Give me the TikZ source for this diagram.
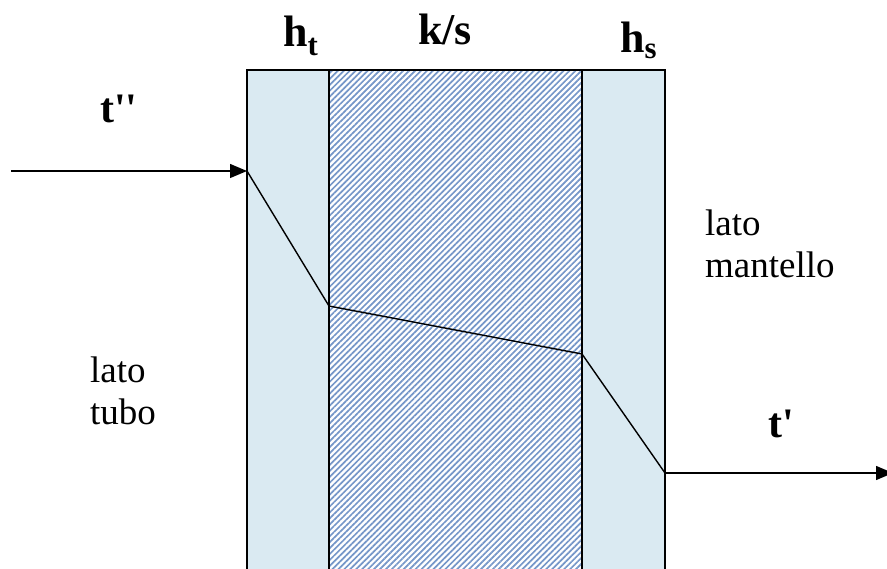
\documentclass[tikz,border=0pt]{standalone}
\usepackage{xcolor}
\usepackage{fontspec}
\setmainfont{Liberation Serif}
\usepackage{tikz}
\usetikzlibrary{arrows.meta, patterns.meta, positioning}

\definecolor{filmblue}{HTML}{DAEAF2}
\definecolor{hatchblue}{HTML}{7596C8}

\begin{document}
\begin{tikzpicture}[x=1pt, y=-1pt,
        film/.style={fill=filmblue},
        wall/.style={fill=white, pattern={Lines[angle=45, distance=4.2pt, line width=1.7pt]}, pattern color=hatchblue},
        edgeline/.style={line width=1.4pt},
        flow/.style={line width=1.3pt, -{Triangle[length=17pt, width=14pt]}},
        coef/.style={font=\fontsize{44}{50}\selectfont\bfseries, inner sep=0pt, anchor=base west},
        temp/.style={font=\fontsize{42}{48}\selectfont\bfseries, inner sep=0pt, anchor=base west},
        side/.style={font=\fontsize{37}{42}\selectfont, inner sep=0pt, anchor=north west, align=left}]
        \useasboundingbox (0,0) rectangle (887,569);

        \coordinate (in)  at (11,171);
        \coordinate (p1)  at (247,171);
        \coordinate (p2)  at (329,306);
        \coordinate (p3)  at (582,354);
        \coordinate (p4)  at (665,473);
        \coordinate (out) at (893,473);

        \fill[film] (247,70) rectangle (329,569);
        \fill[wall] (329,70) rectangle (582,569);
        \fill[film] (582,70) rectangle (665,569);

        \draw[edgeline] (247,569) -- (247,70) -- (665,70) -- (665,569);
        \draw[edgeline] (329,70) -- (329,569);
        \draw[edgeline] (582,70) -- (582,569);

        \node[coef] (ht) at (283,47) {h\textsubscript{t}};
        \node[coef] (ks) at (418,45) {k/s};
        \node[coef] (hs) at (620,53) {h\textsubscript{s}};

        \node[temp] (thot)  at (100,123) {t\textquotesingle\textquotesingle};
        \node[temp] (tcold) at (768,438) {t\textquotesingle};

        \node[side] (tubo)     at (90,357)  {lato\\tubo};
        \node[side] (mantello) at (705,210) {lato\\mantello};

        \path[flow]
        (in) edge (p1)
        (p4) edge (out);

        \draw[line width=1.4pt, line join=round] (p1) -- (p2) -- (p3) -- (p4);

    \end{tikzpicture}
\end{document}
